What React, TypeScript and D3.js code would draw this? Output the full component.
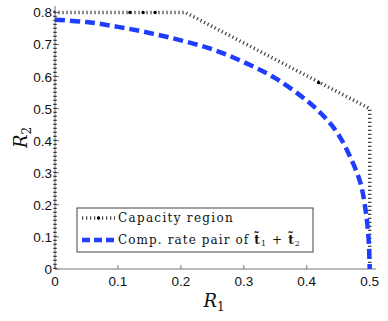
import React from 'react'
import * as d3 from 'd3'

// capacity region boundary (R1, R2)
const capR1 = [0, 0, 0.207, 0.5, 0.5]
const capR2 = [0, 0.8, 0.8, 0.5, 0]
// the few dot markers visible on the capacity line
const dotR1 = [0.119, 0.14, 0.159, 0.419]
const dotR2 = [0.8, 0.8, 0.8, 0.581]

// computable rate pair of t1 + t2
const compR1 = [0, 0.05, 0.1, 0.15, 0.2, 0.25, 0.3, 0.35, 0.4, 0.43, 0.45, 0.47, 0.485, 0.493, 0.498, 0.5]
const compR2 = [0.777, 0.77, 0.755, 0.736, 0.713, 0.685, 0.645, 0.595, 0.525, 0.47, 0.42, 0.345, 0.27, 0.19, 0.1, 0]

const xTicks = [0, 0.1, 0.2, 0.3, 0.4, 0.5]
const yTicks = [0, 0.1, 0.2, 0.3, 0.4, 0.5, 0.6, 0.7, 0.8]

const W = 388
const H = 321
const m = { left: 55, right: 12, top: 6, bottom: 52 }

export default function App() {
  const x = d3.scaleLinear().domain([0, 0.51]).range([m.left, W - m.right])
  const y = d3.scaleLinear().domain([0, 0.82]).range([H - m.bottom, m.top])

  const line = d3.line<[number, number]>().x(d => x(d[0])).y(d => y(d[1]))
  const smooth = d3.line<[number, number]>().x(d => x(d[0])).y(d => y(d[1])).curve(d3.curveCatmullRom)

  const capData = capR1.map((v, i) => [v, capR2[i]] as [number, number])
  const compData = compR1.map((v, i) => [v, compR2[i]] as [number, number])

  const axisColor = '#777'
  const tickFont = '"Liberation Sans", Arial, sans-serif'
  const serif = '"DejaVu Serif", serif'
  const x0 = x(0), y0 = y(0)

  // legend box
  const lg = { x: 77, y: 208, w: 236, h: 44 }

  return (
    <svg width={W} height={H} style={{ position: 'absolute', left: 0, top: 0, background: '#fff' }}>
      {/* axes */}
      <line x1={x0} x2={x(0.51)} y1={y0} y2={y0} stroke={axisColor} strokeWidth={1} />
      <line x1={x0} x2={x0} y1={y0} y2={y(0.82)} stroke={axisColor} strokeWidth={1} />
      {xTicks.map(t => (
        <g key={'x' + t}>
          <line x1={x(t)} x2={x(t)} y1={y0} y2={y0 - 4} stroke={axisColor} />
          <text x={x(t)} y={y0 + 17} fontSize={13.5} fontFamily={tickFont} textAnchor="middle" fill="#111">{t}</text>
        </g>
      ))}
      {yTicks.map(t => (
        <g key={'y' + t}>
          <line x1={x0} x2={x0 + 4} y1={y(t)} y2={y(t)} stroke={axisColor} />
          <text x={x0 - 3} y={y(t) + 5} fontSize={13.5} fontFamily={tickFont} textAnchor="end" fill="#111">{t}</text>
        </g>
      ))}

      {/* capacity region */}
      <path d={line(capData) || ''} fill="none" stroke="#222" strokeWidth={3.5} strokeDasharray="1.2 2.8" strokeOpacity={0.85} />
      {dotR1.map((v, i) => (
        <circle key={'d' + i} cx={x(v)} cy={y(dotR2[i])} r={1.7} fill="#000" />
      ))}

      {/* computable rate pair */}
      <path d={smooth(compData) || ''} fill="none" stroke="#1f3dff" strokeWidth={4.5} strokeDasharray="10 5" />

      {/* axis labels */}
      <text x={214} y={307} fontSize={18} fontFamily={serif} fontStyle="italic" textAnchor="middle" fill="#111">
        R<tspan fontSize={12} dy={4} fontStyle="normal">1</tspan>
      </text>
      <text transform={`translate(27,${(y(0.82) + y0) / 2}) rotate(-90)`} fontSize={18} fontFamily={serif} fontStyle="italic" textAnchor="middle" fill="#111">
        R<tspan fontSize={12} dy={4} fontStyle="normal">2</tspan>
      </text>

      {/* legend */}
      <rect x={lg.x} y={lg.y} width={lg.w} height={lg.h} fill="#fff" stroke="#444" strokeWidth={1} />
      <line x1={lg.x + 5} x2={lg.x + 38} y1={lg.y + 10} y2={lg.y + 10} stroke="#222" strokeWidth={3.5} strokeDasharray="1.2 2.8" strokeOpacity={0.85} />
      <circle cx={lg.x + 21.5} cy={lg.y + 10} r={1.7} fill="#000" />
      <text x={lg.x + 41} y={lg.y + 14} fontSize={12} fontFamily={serif} letterSpacing={1.3} fill="#111">Capacity region</text>
      <line x1={lg.x + 5} x2={lg.x + 38} y1={lg.y + 32} y2={lg.y + 32} stroke="#1f3dff" strokeWidth={4.5} strokeDasharray="8 4" />
      <text x={lg.x + 41} y={lg.y + 36} fontSize={12} fontFamily={serif} letterSpacing={1.1} fill="#111">
        Comp. rate pair of <tspan fontWeight="bold">t̃</tspan><tspan fontSize={8} dy={2}>1</tspan><tspan dy={-2}> + </tspan><tspan fontWeight="bold">t̃</tspan><tspan fontSize={8} dy={2}>2</tspan>
      </text>
    </svg>
  )
}
